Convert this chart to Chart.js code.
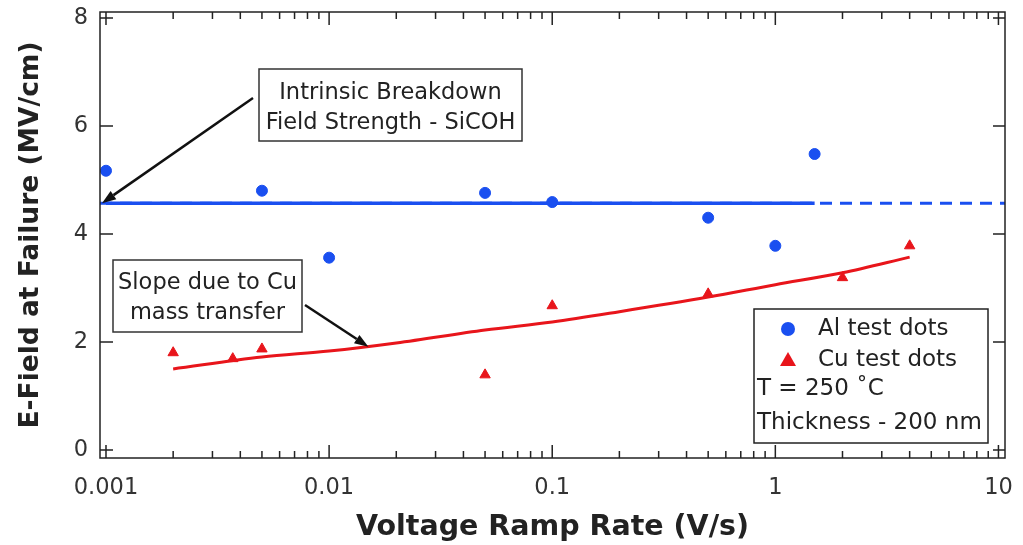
<!DOCTYPE html>
<html>
<head>
<meta charset="utf-8">
<script src="https://cdn.jsdelivr.net/npm/chart.js@4"></script>
<style>
  html, body { margin: 0; padding: 0; background: #fff; }
  #wrap { width: 1023px; height: 545px; }
</style>
</head>
<body>
<div id="wrap"><canvas id="efield"></canvas></div>
<script>
// Al test dots
const alRate = [0.001, 0.005, 0.01, 0.05, 0.1, 0.5, 1, 1.5];
const alField = [5.17, 4.80, 3.56, 4.76, 4.59, 4.30, 3.78, 5.48];
// Cu test dots
const cuRate = [0.002, 0.0037, 0.005, 0.05, 0.1, 0.5, 2, 4];
const cuField = [1.80, 1.69, 1.87, 1.39, 2.67, 2.89, 3.19, 3.78];
// Cu fit curve
const fitRate = [0.002, 0.005, 0.01, 0.02, 0.05, 0.1, 0.2, 0.5, 1, 2, 4];
const fitField = [1.50, 1.72, 1.83, 1.98, 2.22, 2.37, 2.56, 2.83, 3.06, 3.28, 3.57];
// intrinsic breakdown level
const intrinsicField = 4.57;
const solidRange = [0.001, 1.5];
const dashRange = [0.00094, 10.7];

const xTicks = [0.001, 0.01, 0.1, 1, 10];
const yTicks = [0, 2, 4, 6, 8];

const FONT = "'DejaVu Sans', sans-serif";
const BLUE = "#1a4ff0";
const RED = "#e8151b";

function pts(xs, ys) {
  return xs.map((x, i) => ({ x: x, y: ys[i] }));
}

// frame, inward ticks, text boxes, arrows, legend
const decorPlugin = {
  id: "decor",
  afterDraw(chart) {
    const ctx = chart.ctx;
    const a = chart.chartArea;
    const xs = chart.scales.x, ys = chart.scales.y;
    ctx.save();
    ctx.strokeStyle = "#222";
    ctx.lineWidth = 1.5;
    ctx.strokeRect(a.left, a.top, a.right - a.left, a.bottom - a.top);

    ctx.beginPath();
    for (let d = -3; d <= 1; d++) {
      for (let m = 1; m <= 9; m++) {
        const v = m * Math.pow(10, d);
        if (v < xs.min || v > xs.max) continue;
        const px = xs.getPixelForValue(v);
        const len = m === 1 ? 13 : 7;
        ctx.moveTo(px, a.bottom); ctx.lineTo(px, a.bottom - len);
        ctx.moveTo(px, a.top); ctx.lineTo(px, a.top + len);
      }
    }
    yTicks.forEach(v => {
      const py = ys.getPixelForValue(v);
      ctx.moveTo(a.left, py); ctx.lineTo(a.left + 13, py);
      ctx.moveTo(a.right, py); ctx.lineTo(a.right - 12, py);
    });
    ctx.stroke();

    // arrows
    function arrow(x1, y1, x2, y2) {
      ctx.strokeStyle = "#111";
      ctx.fillStyle = "#111";
      ctx.lineWidth = 2.5;
      const ang = Math.atan2(y2 - y1, x2 - x1);
      const hl = 14, hw = 5;
      const bx = x2 - hl * Math.cos(ang), by = y2 - hl * Math.sin(ang);
      ctx.beginPath();
      ctx.moveTo(x1, y1); ctx.lineTo(bx, by);
      ctx.stroke();
      ctx.beginPath();
      ctx.moveTo(x2, y2);
      ctx.lineTo(bx + hw * Math.sin(ang), by - hw * Math.cos(ang));
      ctx.lineTo(bx - hw * Math.sin(ang), by + hw * Math.cos(ang));
      ctx.closePath();
      ctx.fill();
    }
    arrow(253, 98, xs.getPixelForValue(0.001) - 4, ys.getPixelForValue(intrinsicField));
    arrow(305, 305, xs.getPixelForValue(0.015), ys.getPixelForValue(1.91));

    // text boxes
    function box(x, y, w, h, lines, lineYs) {
      ctx.fillStyle = "#fff";
      ctx.fillRect(x, y, w, h);
      ctx.strokeStyle = "#333";
      ctx.lineWidth = 1.5;
      ctx.strokeRect(x, y, w, h);
      ctx.fillStyle = "#222";
      ctx.font = "22.5px " + FONT;
      ctx.textAlign = "center";
      ctx.textBaseline = "middle";
      lines.forEach((t, i) => ctx.fillText(t, x + w / 2, lineYs[i]));
    }
    box(259, 69, 263, 72, ["Intrinsic Breakdown", "Field Strength - SiCOH"], [93, 123]);
    box(113, 260, 189, 72, ["Slope due to Cu", "mass transfer"], [283, 313]);

    // legend
    ctx.fillStyle = "#fff";
    ctx.fillRect(754, 309, 234, 134);
    ctx.strokeStyle = "#222";
    ctx.lineWidth = 1.5;
    ctx.strokeRect(754, 309, 234, 134);
    ctx.fillStyle = BLUE;
    ctx.beginPath();
    ctx.arc(788, 329, 7, 0, Math.PI * 2);
    ctx.fill();
    ctx.fillStyle = RED;
    ctx.beginPath();
    ctx.moveTo(788, 352); ctx.lineTo(796, 366); ctx.lineTo(780, 366);
    ctx.closePath();
    ctx.fill();
    ctx.fillStyle = "#222";
    ctx.font = "23px " + FONT;
    ctx.textAlign = "left";
    ctx.textBaseline = "middle";
    ctx.fillText("Al test dots", 818, 329);
    ctx.fillText("Cu test dots", 818, 360);
    ctx.fillText("T = 250 ˚C", 757, 389);
    ctx.fillText("Thickness - 200 nm", 757, 423);
    ctx.restore();
  }
};

new Chart(document.getElementById("efield").getContext("2d"), {
  type: "scatter",
  data: {
    datasets: [
      {
        label: "intrinsic dashed",
        data: pts(dashRange, [intrinsicField, intrinsicField]),
        showLine: true,
        borderColor: BLUE,
        borderWidth: 3,
        borderDash: [12, 8],
        pointRadius: 0,
      },
      {
        label: "intrinsic",
        data: pts(solidRange, [intrinsicField, intrinsicField]),
        showLine: true,
        borderColor: BLUE,
        borderWidth: 3.5,
        pointRadius: 0,
      },
      {
        label: "Cu fit",
        data: pts(fitRate, fitField),
        showLine: true,
        borderColor: RED,
        borderWidth: 3,
        cubicInterpolationMode: "monotone",
        pointRadius: 0,
      },
      {
        label: "Al test dots",
        data: pts(alRate, alField),
        backgroundColor: BLUE,
        borderColor: BLUE,
        pointStyle: "circle",
        pointRadius: 5.5,
      },
      {
        label: "Cu test dots",
        data: pts(cuRate, cuField),
        backgroundColor: RED,
        borderColor: RED,
        pointStyle: "triangle",
        pointRadius: 6,
      },
    ],
  },
  options: {
    responsive: true,
    maintainAspectRatio: false,
    animation: false,
    layout: { padding: { left: 0, top: 12, right: 18, bottom: 0 } },
    plugins: {
      legend: { display: false },
      tooltip: { enabled: false },
    },
    scales: {
      x: {
        type: "logarithmic",
        min: 0.00094,
        max: 10.7,
        grid: { display: false, drawTicks: false },
        border: { display: false },
        afterBuildTicks: function (scale) {
          scale.ticks = xTicks.map(v => ({ value: v }));
        },
        afterFit: function (scale) {
          scale.height = 87;
          scale.paddingLeft = 0;
          scale.paddingRight = 0;
        },
        ticks: {
          color: "#333",
          font: { family: FONT, size: 22.5 },
          padding: 17,
          maxRotation: 0,
          autoSkip: false,
          callback: function (value) { return String(value); },
        },
        title: {
          display: true,
          text: "Voltage Ramp Rate (V/s)",
          color: "#222",
          font: { family: FONT, size: 28.5, weight: "bold" },
          padding: { top: 3, bottom: 0 },
        },
      },
      y: {
        min: -0.15,
        max: 8.11,
        grid: { display: false, drawTicks: false },
        border: { display: false },
        afterBuildTicks: function (scale) {
          scale.ticks = yTicks.map(v => ({ value: v }));
        },
        afterFit: function (scale) {
          scale.width = 100;
          scale.paddingTop = 0;
          scale.paddingBottom = 0;
        },
        ticks: {
          color: "#333",
          font: { family: FONT, size: 22.5 },
          padding: 12,
        },
        title: {
          display: true,
          text: "E-Field at Failure (MV/cm)",
          color: "#222",
          font: { family: FONT, size: 26.5, weight: "bold" },
          padding: { top: 15, bottom: 0 },
        },
      },
    },
  },
  plugins: [decorPlugin],
});
</script>
</body>
</html>
